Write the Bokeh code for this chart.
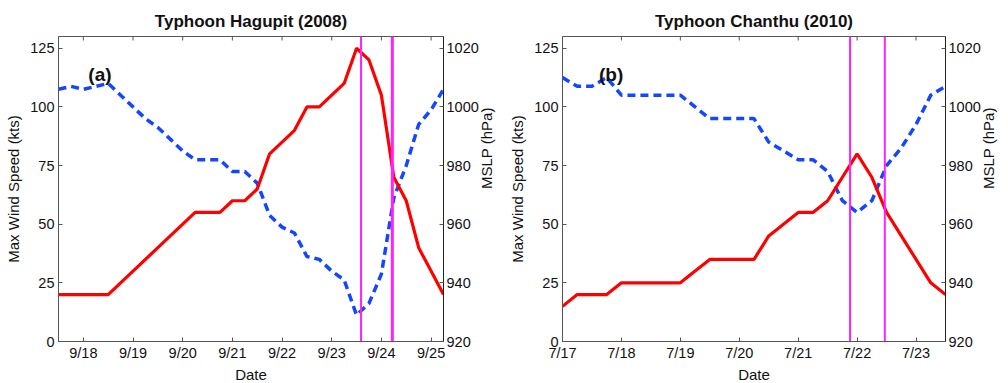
import math
from bokeh.plotting import figure
from bokeh.layouts import row
from bokeh.models import Range1d, LinearAxis, FixedTicker, Label
from bokeh.embed import file_html
from bokeh.resources import INLINE

# ---------------- data: Typhoon Hagupit (2008) ----------------
# time in days of September (6-hourly)
hag_day = [17.5, 17.75, 18.0, 18.25, 18.5, 18.75, 19.0, 19.25, 19.5, 19.75,
           20.0, 20.25, 20.5, 20.75, 21.0, 21.25, 21.5, 21.75, 22.0, 22.25,
           22.5, 22.75, 23.0, 23.25, 23.5, 23.75, 24.0, 24.25, 24.5, 24.75,
           25.0, 25.25]
hag_wind = [20, 20, 20, 20, 20, 25, 30, 35, 40, 45,
            50, 55, 55, 55, 60, 60, 65, 80, 85, 90,
            100, 100, 105, 110, 125, 120, 105, 70, 60, 40,
            30, 20]
hag_mslp = [1006, 1007, 1006, 1007, 1008, 1004, 1000, 996, 993, 989,
            985, 982, 982, 982, 978, 978, 974, 963, 959, 957,
            949, 948, 944, 941, 929, 933, 943, 969, 980, 994,
            999, 1006]
hag_ticks = [18, 19, 20, 21, 22, 23, 24, 25]
hag_labels = ["9/18", "9/19", "9/20", "9/21", "9/22", "9/23", "9/24", "9/25"]
hag_vlines = [23.59, 24.22]

# ---------------- data: Typhoon Chanthu (2010) ----------------
# time in days of July (6-hourly)
cha_day = [17.0, 17.25, 17.5, 17.75, 18.0, 18.25, 18.5, 18.75, 19.0, 19.25,
           19.5, 19.75, 20.0, 20.25, 20.5, 20.75, 21.0, 21.25, 21.5, 21.75,
           22.0, 22.25, 22.5, 22.75, 23.0, 23.25, 23.5]
cha_wind = [15, 20, 20, 20, 25, 25, 25, 25, 25, 30,
            35, 35, 35, 35, 45, 50, 55, 55, 60, 70,
            80, 70, 55, 45, 35, 25, 20]
cha_mslp = [1010, 1007, 1007, 1010, 1004, 1004, 1004, 1004, 1004, 1000,
            996, 996, 996, 996, 988, 985, 982, 982, 978, 968,
            964, 968, 980, 986, 994, 1004, 1007]
cha_ticks = [17, 18, 19, 20, 21, 22, 23]
cha_labels = ["7/17", "7/18", "7/19", "7/20", "7/21", "7/22", "7/23"]
cha_vlines = [21.88, 22.47]

wind_ticks = [0, 25, 50, 75, 100, 125]
mslp_ticks = [920, 940, 960, 980, 1000, 1020]

FONT = "Liberation Sans"
RED = "#ff0000"
BLUE = "#1446ff"
MAG = "#ff22ff"
AXC = "#555555"
TXT = "#111111"

YMAX = 130.0
FH = 305


def style_axis(ax, standoff):
    ax.axis_line_color = AXC
    ax.major_tick_line_color = AXC
    ax.major_tick_in = 4
    ax.major_tick_out = 0
    ax.minor_tick_line_color = None
    ax.major_label_text_font = FONT
    ax.major_label_text_font_size = "14.5px"
    ax.major_label_text_color = TXT
    ax.major_label_standoff = standoff
    ax.axis_label_text_font = FONT
    ax.axis_label_text_font_size = "15px"
    ax.axis_label_text_font_style = "normal"
    ax.axis_label_text_color = TXT


def make_panel(title, days, wind, mslp, ticks, labels, vlines, vwidths,
               xr, tag, tag_x, bl, br, fw):
    p = figure(width=bl + fw + br, height=383, frame_width=fw, frame_height=FH,
               x_range=Range1d(*xr), y_range=Range1d(0, YMAX),
               output_backend="svg", toolbar_location=None,
               min_border_left=bl, min_border_right=br,
               min_border_top=36, min_border_bottom=42,
               background_fill_color="white", border_fill_color="white")
    p.extra_y_ranges = {"mslp": Range1d(920, 1024)}
    p.title.text = title
    p.title.align = "center"
    p.title.text_font = FONT
    p.title.text_font_size = "17px"
    p.title.text_font_style = "bold"
    p.title.text_color = TXT
    p.title.standoff = 11
    p.grid.grid_line_color = None
    p.outline_line_color = AXC

    xa = p.xaxis[0]
    xa.ticker = FixedTicker(ticks=ticks)
    xa.major_label_overrides = {t: l for t, l in zip(ticks, labels)}
    xa.axis_label = "Date"
    style_axis(xa, 3)
    xa.axis_label_standoff = 2

    ya = p.yaxis[0]
    ya.ticker = FixedTicker(ticks=wind_ticks)
    ya.axis_label = "Max Wind Speed (kts)"
    style_axis(ya, 4)
    ya.axis_label_standoff = 5

    ra = LinearAxis(y_range_name="mslp", ticker=FixedTicker(ticks=mslp_ticks),
                    axis_label="MSLP (hPa)")
    style_axis(ra, 3)
    ra.axis_line_color = "#222222"
    ra.axis_label_standoff = 5
    try:
        ra.axis_label_orientation = math.pi / 2
    except Exception:
        pass
    p.add_layout(ra, "right")

    # small inward ticks on the top edge of the box
    tick_len = 4 * YMAX / FH
    p.segment(x0=ticks, y0=[YMAX] * len(ticks), x1=ticks,
              y1=[YMAX - tick_len] * len(ticks), line_color=AXC, line_width=1)

    p.line(days, mslp, y_range_name="mslp", line_color=BLUE, line_width=3.5,
           line_dash="8 5")
    p.line(days, wind, line_color=RED, line_width=3.2)
    for v, w in zip(vlines, vwidths):
        p.segment(x0=[v], y0=[0], x1=[v], y1=[YMAX], line_color=MAG, line_width=w)

    p.add_layout(Label(x=tag_x, y=114, text=tag, text_font=FONT,
                       text_font_size="19px", text_font_style="bold",
                       text_color=TXT, text_baseline="middle"))
    return p


p1 = make_panel("Typhoon Hagupit (2008)", hag_day, hag_wind, hag_mslp,
                hag_ticks, hag_labels, hag_vlines, [2, 3], (17.5, 25.25),
                "(a)", 18.1, 58, 61, 385)
p2 = make_panel("Typhoon Chanthu (2010)", cha_day, cha_wind, cha_mslp,
                cha_ticks, cha_labels, cha_vlines, [2, 2], (17.0, 23.5),
                "(b)", 17.62, 53, 68, 383)

layout = row(p1, p2, spacing=0)
open("out.html", "w").write(file_html(layout, INLINE))
